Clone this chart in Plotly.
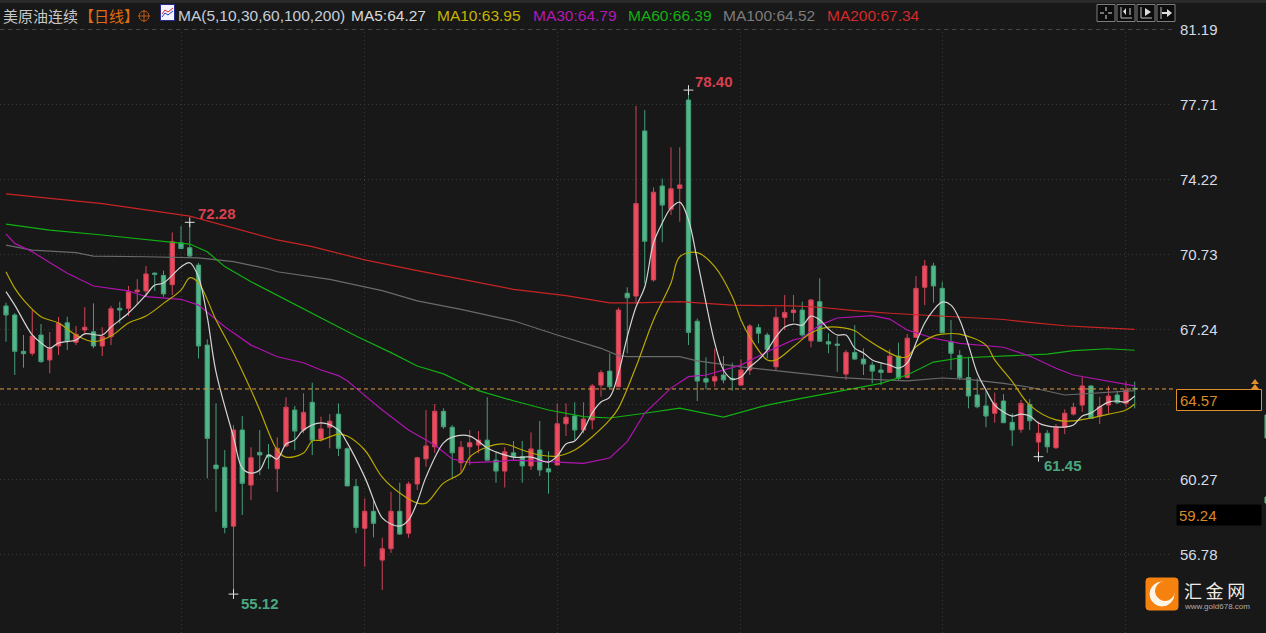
import plotly.graph_objects as go

# candles, oldest first (red = up, green = down)
opens = [68.33,67.91,66.22,66.13,66.98,65.82,66.47,67.55,66.64,67.21,67.13,66.47,66.90,68.22,68.22,68.99,69.03,69.86,69.75,69.32,
         71.27,71.04,70.23,66.51,60.93,60.83,58.09,62.56,60.00,61.52,61.40,60.76,61.82,63.49,62.56,63.85,62.14,62.69,63.30,61.69,
         59.94,57.99,58.78,56.51,57.04,58.78,57.76,60.05,61.22,61.78,63.43,62.69,61.04,61.78,61.86,62.09,61.16,60.65,61.50,61.32,
         60.89,61.63,60.76,60.93,62.85,63.21,62.56,63.03,64.65,65.30,64.57,68.92,68.79,76.47,69.54,73.91,72.83,73.80,77.91,67.62,
         64.95,64.84,65.12,64.96,64.65,65.35,67.32,66.98,65.50,67.80,68.02,68.14,66.71,68.53,66.67,66.56,65.16,66.17,65.86,65.58,
         65.35,65.24,66.00,65.00,66.87,69.20,70.19,69.15,66.67,66.03,65.00,64.19,63.68,63.34,63.91,62.92,62.59,63.75,62.00,62.41,
         61.74,62.69,63.30,63.72,64.61,63.21,63.72,64.19,63.80,64.50]
closes = [67.91,66.22,66.11,66.93,65.74,66.36,67.52,66.70,67.01,67.34,66.47,66.90,68.20,68.14,68.99,69.07,69.82,69.80,68.89,71.32,
          71.00,70.65,66.47,62.17,60.76,58.03,62.56,60.08,61.27,61.40,61.30,61.71,63.62,62.51,63.38,62.09,62.61,62.97,61.71,59.96,
          58.03,58.78,58.22,57.04,58.78,57.72,60.05,61.27,61.82,63.43,62.71,61.50,61.76,61.97,62.09,61.16,60.65,61.55,61.32,60.89,
          61.68,60.70,60.61,62.85,63.15,62.56,63.07,64.61,65.23,64.57,68.14,68.71,73.09,71.34,73.62,73.02,73.78,73.96,67.10,64.84,
          64.79,65.04,64.89,64.89,65.35,67.40,67.06,66.31,67.80,68.03,68.14,66.98,68.61,66.69,66.56,66.50,66.17,65.86,65.63,65.30,
          65.24,66.00,64.96,66.83,69.15,70.19,69.26,67.09,66.13,65.00,64.14,63.64,63.21,63.80,62.90,62.56,63.80,62.99,62.41,61.78,
          62.71,63.34,63.62,64.61,63.10,63.64,64.14,63.83,64.42,64.47]
highs = [68.48,68.00,66.98,68.14,67.49,67.12,67.82,67.83,67.40,68.27,68.45,67.34,68.33,68.53,69.26,69.58,70.19,69.88,69.97,71.75,
         72.05,72.22,70.34,66.78,63.80,61.63,62.79,63.21,61.76,62.56,61.91,62.22,64.08,63.68,64.27,64.76,63.18,63.30,63.80,61.75,
         60.28,59.38,59.27,57.55,59.69,60.11,60.16,61.32,63.49,63.77,63.57,62.79,62.05,62.56,62.51,64.08,61.55,61.76,62.05,62.05,
         62.45,62.98,61.57,63.80,63.80,63.85,63.85,64.70,65.35,66.13,68.25,69.20,77.63,77.44,73.85,74.25,75.71,75.71,78.37,67.74,
         65.94,66.34,66.00,65.69,65.85,67.49,67.49,67.09,68.25,68.84,68.84,68.53,68.64,69.62,67.06,66.93,66.28,67.44,66.36,65.74,
         65.66,66.31,66.62,67.03,69.72,70.47,70.34,69.46,67.68,66.28,65.97,64.96,64.42,64.30,64.23,63.34,63.96,63.99,62.95,62.56,
         62.84,63.52,63.83,65.01,64.65,64.11,64.61,64.39,64.81,64.81]
lows = [66.67,65.12,65.46,66.02,65.69,65.20,66.05,66.28,66.51,67.03,66.36,66.00,66.51,67.52,67.86,68.41,68.76,69.03,68.76,68.84,
        70.97,70.62,65.89,60.31,58.76,57.76,54.93,58.61,59.30,60.47,60.75,59.69,61.76,61.63,62.41,61.40,62.02,61.71,61.35,59.96,
        57.76,56.20,57.57,55.12,56.85,57.68,57.55,59.77,60.85,61.50,62.62,60.31,60.62,60.93,61.48,61.16,60.11,59.89,61.16,60.11,
        60.70,60.42,59.60,60.93,62.28,62.09,62.41,62.59,64.11,64.50,64.57,66.13,68.45,69.38,69.46,71.29,72.56,72.25,66.51,63.91,
        64.45,64.57,64.73,64.39,64.61,65.12,66.59,65.89,65.35,67.21,67.60,66.90,66.41,66.69,66.13,65.27,64.89,65.82,65.12,64.73,
        64.65,65.22,64.89,64.96,66.87,68.37,68.48,67.06,65.35,64.89,63.57,63.57,62.69,62.90,62.90,61.82,62.43,62.56,61.32,61.50,
        61.68,62.37,63.23,63.41,63.07,62.84,63.34,63.77,63.62,63.57]
bar_idx = list(range(len(opens)))

# moving averages, read at the bars listed next to them
ma5_idx = [0,1,3,4,5,6,8,9,11,12,14,16,17,18,20,21,22,23,24,26,27,28,29,30,31,32,33,34,36,38,39,41,43,44,45,46,47,48,50,51,53,55,56,58,60,62,63,64,65,66,
           67,68,69,70,71,72,73,74,75,76,77,78,79,80,81,82,83,84,85,86,87,88,89,90,91,92,93,94,95,96,97,98,99,100,101,102,103,104,105,106,107,108,109,110,111,
           112,113,114,115,116,117,118,119,120,121,122,123,124,125,126,127,128,129]
ma5 = [69.00,68.37,66.98,66.61,66.37,66.61,66.75,67.03,66.98,67.35,68.00,68.84,69.30,69.40,70.14,70.34,69.68,67.82,65.26,62.23,60.79,60.56,60.70,61.40,61.21,61.91,62.09,62.56,62.89,62.56,61.96,60.37,58.47,58.19,58.09,58.37,59.21,60.37,61.96,62.23,62.28,61.72,61.54,61.30,61.30,61.07,61.35,61.91,62.05,62.56,
       63.35,63.86,64.09,65.21,66.89,68.28,69.21,71.26,72.19,72.89,73.16,72.33,70.47,68.47,66.61,65.35,64.93,65.03,65.49,65.82,66.28,66.89,67.35,67.49,67.44,67.86,67.68,67.26,66.98,66.98,66.37,66.14,65.82,65.68,65.58,65.44,65.68,66.61,67.54,68.14,68.51,68.37,67.68,66.51,65.21,
       64.42,63.72,63.40,63.21,63.30,63.21,62.89,62.75,62.70,62.70,62.79,63.21,63.35,63.63,63.86,63.91,63.86,64.14]
ma10_idx = [0,1,2,4,6,8,10,12,14,16,18,20,21,22,24,26,28,29,31,32,34,35,36,38,39,41,43,45,47,48,50,52,53,55,57,59,61,63,65,67,69,70,72,74,76,77,79,81,83,84,
            85,87,88,90,92,94,97,98,100,102,103,104,106,107,109,112,113,115,117,120,122,124,126,128,129]
ma10 = [69.92,69.16,68.61,67.83,67.54,66.98,66.67,66.93,67.54,67.86,68.45,69.07,69.64,69.40,67.68,66.14,64.42,63.49,61.63,61.30,61.49,62.05,62.09,62.37,62.28,61.63,60.37,59.63,59.16,59.16,60.09,60.56,61.30,61.77,61.91,61.63,61.40,61.35,61.63,62.25,63.03,63.58,65.50,67.68,69.40,70.62,70.81,70.16,68.76,67.68,
        66.90,65.82,65.82,66.43,67.07,67.35,67.18,66.89,66.37,65.96,65.97,66.43,66.93,67.02,67.02,66.51,65.82,64.81,63.72,63.03,62.99,63.12,63.30,63.49,63.77]
ma30_idx = [0,1,3,7,10,14,16,20,22,25,28,31,34,36,38,39,40,43,46,49,51,53,56,58,62,66,69,71,73,76,78,80,84,87,90,91,93,95,99,101,103,106,109,111,114,117,120,122,125,129]
ma30 = [71.68,71.24,70.85,69.85,69.26,69.03,68.76,68.64,68.37,67.36,66.51,65.97,65.69,65.35,65.09,64.85,64.51,63.49,62.56,61.86,61.21,61.04,61.09,61.16,61.09,61.01,61.26,62.02,63.35,64.51,65.04,65.12,65.58,66.20,66.75,66.84,67.44,67.77,67.88,67.72,67.21,66.83,66.59,66.51,66.41,66.00,65.43,65.12,64.89,64.61]
ma60_idx = [0,5,11,16,21,23,25,28,32,35,40,44,47,50,54,58,62,66,69,73,77,82,87,90,95,100,103,106,109,112,115,119,122,125,126,129]
ma60 = [72.14,71.86,71.63,71.43,71.21,70.85,70.16,69.46,68.61,67.96,66.93,66.16,65.54,65.17,64.39,63.92,63.49,63.18,63.12,63.34,63.58,63.16,63.72,63.96,64.34,64.73,65.12,65.72,65.91,65.97,66.00,66.09,66.25,66.31,66.34,66.27]
ma100_idx = [0,3,8,10,16,22,26,30,31,37,43,47,52,58,63,68,70,71,77,79,84,88,92,95,99,103,107,110,114,117,121,125,129]
ma100 = [71.16,70.93,70.81,70.65,70.62,70.57,70.39,70.05,69.92,69.57,69.04,68.57,68.17,67.64,66.98,66.36,66.02,65.97,65.97,65.78,65.50,65.32,65.16,65.01,64.92,64.85,64.98,64.92,64.73,64.55,64.19,64.30,64.39]
ma200_idx = [0,11,21,31,35,41,47,52,58,64,69,72,77,83,90,93,97,101,107,110,114,117,121,125,129]
ma200 = [73.54,73.09,72.51,71.40,71.09,70.47,69.97,69.57,69.10,68.81,68.47,68.47,68.53,68.37,68.33,68.27,68.11,67.99,67.86,67.78,67.70,67.57,67.41,67.32,67.24]

# axis labels
price_ticks = [81.19,77.71,74.22,70.73,67.24,63.76,60.27,56.78]
price_labels = ['81.19','77.71','74.22','70.73','67.24','','60.27','56.78']
month_grid_idx = [20,41,63,84,107,128]

# extremes
extreme_idx = [78,21,26,118]
extreme_vals = [78.37,72.22,54.93,61.32]
extreme_text = ['78.40','72.28','55.12','61.45']
extreme_col = ['#d8404f','#d8404f','#4aa880','#4aa880']
extreme_shift = [(5,9),(6,9),(5,-9),(4,-9)]

last_line = 64.47

legend_items = [('MA(5,10,30,60,100,200)',178,'#c5cdd8'),('MA5:64.27',351,'#d8d8d8'),('MA10:63.95',437,'#c4b400'),
                ('MA30:64.79',533,'#b418b4'),('MA60:66.39',628,'#12b012'),('MA100:64.52',723,'#7c7c7c'),('MA200:67.34',827,'#d42a2a')]

W, H = 1266, 633
PLOT_W = 1172
BG = '#181818'
GRID = '#383838'
TXT = 'Liberation Sans'
CJK = 'Noto Sans CJK SC'


def px(x):
    return x / PLOT_W


def py(y):
    return 1 - y / H


def rect(x0, y0, x1, y1, fill, line=None):
    return dict(type='rect', xref='paper', yref='paper', x0=px(x0), y0=py(y0), x1=px(x1), y1=py(y1),
                fillcolor=fill, line=dict(color=line or fill, width=1), layer='above')


def seg(x0, y0, x1, y1, col, width=1, dash='solid'):
    return dict(type='line', xref='paper', yref='paper', x0=px(x0), y0=py(y0), x1=px(x1), y1=py(y1),
                line=dict(color=col, width=width, dash=dash), layer='above')


def poly(points, fill=None, line=None, width=1):
    d = 'M' + ' L'.join(f'{px(a):.5f},{py(b):.5f}' for a, b in points)
    if fill:
        d += ' Z'
    return dict(type='path', xref='paper', yref='paper', path=d, fillcolor=fill or 'rgba(0,0,0,0)',
                line=dict(color=line or 'rgba(0,0,0,0)', width=width), layer='above')


def circle(cx, cy, r, fill, line=None):
    return dict(type='circle', xref='paper', yref='paper', x0=px(cx - r), x1=px(cx + r), y0=py(cy + r), y1=py(cy - r),
                fillcolor=fill, line=dict(color=line or fill, width=1), layer='above')


def label(x, y, text, col, size=15, font=TXT):
    return dict(xref='paper', yref='paper', x=px(x), y=py(y), text=text, showarrow=False, xanchor='left', yanchor='middle',
                font=dict(family=font, size=size, color=col), borderpad=0, borderwidth=0)


fig = go.Figure()

fig.add_trace(go.Candlestick(
    x=bar_idx, open=opens, high=highs, low=lows, close=closes, whiskerwidth=0,
    increasing=dict(line=dict(color='#CF4558', width=1), fillcolor='#EF4B5F'),
    decreasing=dict(line=dict(color='#469E78', width=1), fillcolor='#50B888'),
    showlegend=False))

for xs, ys, col, shp in [(ma200_idx, ma200, '#c82424', 'linear'), (ma100_idx, ma100, '#6a6a6a', 'linear'),
                         (ma60_idx, ma60, '#12b012', 'linear'), (ma30_idx, ma30, '#b014b0', 'linear'),
                         (ma10_idx, ma10, '#b8a800', 'spline'), (ma5_idx, ma5, '#d4d4d4', 'spline')]:
    fig.add_trace(go.Scatter(x=xs, y=ys, mode='lines', line=dict(color=col, width=1.2, shape=shp), showlegend=False))

fig.add_trace(go.Scatter(x=extreme_idx, y=extreme_vals, mode='markers', showlegend=False,
                         marker=dict(symbol='cross-thin', size=7, line=dict(color='#e0e0e0', width=1))))

annos = []
for i, v, t, c, s in zip(extreme_idx, extreme_vals, extreme_text, extreme_col, extreme_shift):
    annos.append(dict(x=i, y=v, text=f'<b>{t}</b>', showarrow=False, xanchor='left', yanchor='middle', xshift=s[0], yshift=s[1],
                      font=dict(family=TXT, size=15, color=c)))

annos.append(label(3, 15, '美原油连续', '#c8c8c8', 15, CJK))
annos.append(label(79, 15, '【日线】', '#e06c14', 15, CJK))
for t, x, c in legend_items:
    annos.append(label(x, 15, t, c, 15.5))

# price boxes and logo text
annos.append(label(1180, 400, '64.57', '#d88a2a', 15))
annos.append(label(1179, 515, '59.24', '#d88a2a', 15))
annos.append(label(1184, 590, '汇\u2009金\u2009网', '#f2ece4', 18, CJK))
annos.append(label(1184, 606, 'www.gold678.com', '#b0aba5', 8))

shapes = []
# header cover, so grid lines stop under the legend row
shapes.append(rect(0, 0, PLOT_W, 29, BG))
shapes.append(rect(0, 0, W, 2.5, '#2a2a2a'))
shapes.append(seg(0, 29.5, PLOT_W, 29.5, '#444444', 1, '4px,4px'))
# last price line
shapes.append(dict(type='line', xref='paper', yref='y', x0=0, x1=px(1176), y0=last_line, y1=last_line,
                   line=dict(color='#e09a40', width=1, dash='4px,3px'), layer='above'))
# orange crosshair glyph
shapes.append(circle(144, 16, 5, 'rgba(0,0,0,0)', '#c05a10'))
shapes.append(seg(138, 16, 150, 16, '#c05a10'))
shapes.append(seg(144, 10, 144, 22, '#c05a10'))
# indicator icon
shapes.append(rect(160.5, 4.5, 174.5, 20.5, '#f4f4ff', '#2a2a90'))
shapes.append(poly([(162, 14), (165, 10), (168, 12), (173, 8)], None, '#e02828'))
shapes.append(poly([(162, 17), (165, 13), (168, 15), (173, 11)], None, '#2838d0'))
# toolbar buttons
for x0 in [1097, 1117, 1137, 1157]:
    shapes.append(rect(x0, 4.5, x0 + 18, 21.5, '#0c0c0c', '#7c7c7c'))
for a, b, c, d in [(1100, 13, 1104, 13), (1108, 13, 1112, 13), (1106, 7, 1106, 11), (1106, 15, 1106, 19)]:
    shapes.append(seg(a, b, c, d, '#e0e0e0'))
for x0 in [1117, 1137]:
    shapes.append(seg(x0 + 4, 7, x0 + 4, 18, '#bbbbbb'))
    shapes.append(seg(x0 + 4, 18, x0 + 15, 18, '#bbbbbb'))
shapes.append(poly([(1126, 8), (1126, 15), (1123, 11.5)], '#dddddd'))
shapes.append(seg(1130, 8, 1130, 15, '#dddddd'))
shapes.append(poly([(1145, 8), (1145, 16), (1151, 12)], '#dddddd'))
shapes.append(seg(1161, 7, 1161, 19, '#bbbbbb'))
shapes.append(poly([(1167, 9), (1172, 13), (1167, 17)], '#dddddd'))
shapes.append(seg(1162, 13, 1168, 13, '#dddddd', 2))
# boxes on the price scale
shapes.append(rect(1176.5, 389.5, 1261.5, 410.5, '#000000', '#e09030'))
shapes.append(rect(1177, 505, 1261, 525, '#000000'))
shapes.append(poly([(1251, 384), (1259, 384), (1255, 379)], '#e09030'))
shapes.append(poly([(1251, 389), (1259, 389), (1255, 384)], '#e09030'))
# cut off marks at the page edge
shapes.append(rect(1265, 415, W, 438, '#50B888'))
shapes.append(rect(1265, 497, W, 503, '#50B888'))
# logo
shapes.append(dict(type='path', xref='paper', yref='paper', layer='above', fillcolor='#f5820f', line=dict(color='#f5820f', width=1),
                   path=f'M{px(1149)},{py(578)} L{px(1175)},{py(578)} Q{px(1178)},{py(578)} {px(1178)},{py(581)} '
                        f'L{px(1178)},{py(607)} Q{px(1178)},{py(610)} {px(1175)},{py(610)} L{px(1149)},{py(610)} '
                        f'Q{px(1146)},{py(610)} {px(1146)},{py(607)} L{px(1146)},{py(581)} Q{px(1146)},{py(578)} {px(1149)},{py(578)} Z'))
shapes.append(circle(1162, 594, 12, '#fff4e8'))
shapes.append(circle(1165, 591, 9.5, '#f5820f'))

fig.update_layout(
    width=W, height=H,
    margin=dict(l=0, r=W - PLOT_W, t=0, b=0),
    paper_bgcolor=BG, plot_bgcolor=BG,
    showlegend=False, hovermode=False,
    shapes=shapes, annotations=annos,
    xaxis=dict(range=[-0.686, 133.26], tickvals=month_grid_idx, showticklabels=False, ticks='',
               showgrid=True, gridcolor=GRID, griddash='1px,3px', gridwidth=1, zeroline=False, showline=False,
               rangeslider=dict(visible=False)),
    yaxis=dict(range=[53.12, 82.56], side='right', tickvals=price_ticks, ticktext=price_labels, ticks='outside', ticklen=4,
               tickcolor=BG, tickfont=dict(family=TXT, size=15, color='#d5dce6'),
               showgrid=True, gridcolor=GRID, griddash='1px,3px', gridwidth=1, zeroline=False, showline=False),
)

# the default page keeps an 8px body margin, the chart has to sit at the window corner
fig.write_html("out.html", config={'displayModeBar': False},
               post_script="document.body.style.margin='0';document.body.style.overflow='hidden';")
